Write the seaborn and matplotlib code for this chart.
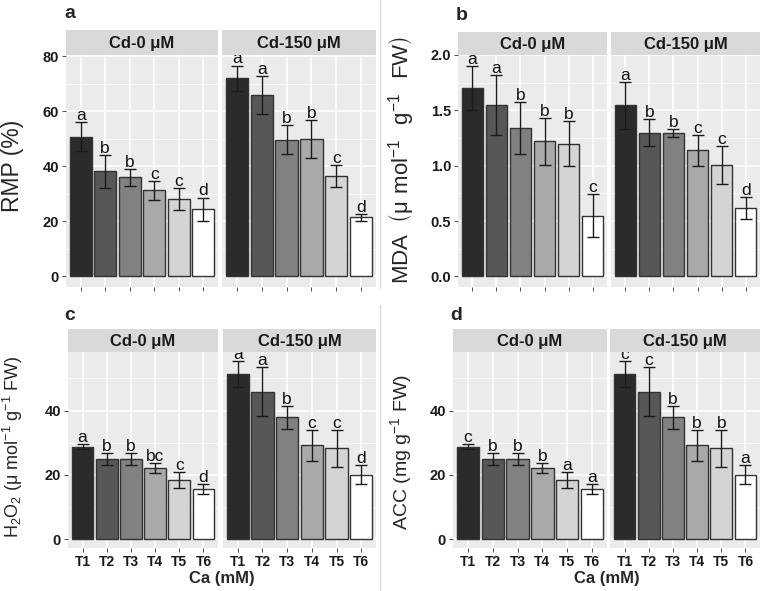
import pandas as pd
import matplotlib.pyplot as plt
import seaborn as sns
from matplotlib.lines import Line2D

# treatments and facet groups
treatments = ['T1', 'T2', 'T3', 'T4', 'T5', 'T6']
groups = ['Cd-0 μM', 'Cd-150 μM']
bar_colors = ['#2b2b2b', '#575757', '#818181', '#a9a9a9', '#d4d4d4', '#ffffff']

# panel a - RMP (%)
rmp_cd0 = [50.8, 38.2, 36.0, 31.3, 28.0, 24.5]
rmp_cd0_err = [5.2, 5.9, 3.0, 3.5, 4.0, 4.2]
rmp_cd150 = [72.0, 66.0, 49.7, 50.0, 36.5, 21.5]
rmp_cd150_err = [4.7, 7.0, 5.2, 7.0, 4.0, 1.2]
rmp_letters_cd0 = ['a', 'b', 'b', 'c', 'c', 'd']
rmp_letters_cd150 = ['a', 'a', 'b', 'b', 'c', 'd']

# panel b - MDA
mda_cd0 = [1.70, 1.55, 1.34, 1.22, 1.20, 0.55]
mda_cd0_err = [0.20, 0.27, 0.235, 0.21, 0.20, 0.195]
mda_cd150 = [1.545, 1.30, 1.295, 1.14, 1.005, 0.62]
mda_cd150_err = [0.21, 0.12, 0.035, 0.14, 0.17, 0.10]
mda_letters_cd0 = ['a', 'a', 'b', 'b', 'b', 'c']
mda_letters_cd150 = ['a', 'b', 'b', 'c', 'c', 'd']

# panel c - H2O2
h2o2_cd0 = [28.8, 24.8, 24.8, 22.2, 18.3, 15.5]
h2o2_cd0_err = [0.7, 1.85, 1.85, 1.55, 2.45, 1.5]
h2o2_cd150 = [51.4, 45.9, 37.9, 29.2, 28.2, 20.1]
h2o2_cd150_err = [4.05, 7.7, 3.55, 4.8, 5.75, 3.0]
h2o2_letters_cd0 = ['a', 'b', 'b', 'bc', 'c', 'd']
h2o2_letters_cd150 = ['a', 'a', 'b', 'c', 'c', 'd']

# panel d - ACC
acc_cd0 = [28.8, 24.8, 24.8, 22.2, 18.3, 15.5]
acc_cd0_err = [0.7, 1.85, 1.85, 1.55, 2.45, 1.5]
acc_cd150 = [51.4, 45.9, 37.9, 29.2, 28.2, 20.1]
acc_cd150_err = [4.05, 7.7, 3.55, 4.8, 5.75, 3.0]
acc_letters_cd0 = ['c', 'b', 'b', 'b', 'a', 'a']
acc_letters_cd150 = ['c', 'c', 'b', 'b', 'b', 'a']

sns.set_theme(style="darkgrid")
plt.rcParams['font.family'] = ['Liberation Sans', 'DejaVu Sans']
plt.rcParams['mathtext.default'] = 'regular'

W, H = 761, 591
fig = plt.figure(figsize=(W / 100, H / 100), dpi=100)
fig.patch.set_facecolor('white')


def px_box(x0, x1, ytop, ybot):
    return [x0 / W, 1 - ybot / H, (x1 - x0) / W, (ybot - ytop) / H]


def draw_panel(facets, strip_top, plot_top, plot_bot, data, yticks, fmt, show_x):
    hi = max(max(m + e for m, e in zip(d[0], d[1])) for d in data)
    pad = 0.05 * hi
    minor = [(yticks[i] + yticks[i + 1]) / 2 for i in range(len(yticks) - 1)]
    minor.append(yticks[-1] + (yticks[1] - yticks[0]) / 2)
    for k, ((x0, x1), (means, errs, letters)) in enumerate(zip(facets, data)):
        ax = fig.add_axes(px_box(x0, x1, plot_top, plot_bot))
        df = pd.DataFrame({'trt': treatments, 'val': means})
        sns.barplot(data=df, x='trt', y='val', hue='trt', palette=bar_colors,
                    edgecolor='#333333', linewidth=1, width=0.9, legend=False,
                    ax=ax, zorder=2)
        ax.errorbar(range(6), means, yerr=errs, fmt='none', ecolor='#1a1a1a',
                    elinewidth=1, capsize=4, capthick=1, zorder=3)
        for i, lab in enumerate(letters):
            ax.annotate(lab, (i, means[i] + errs[i]), xytext=(0, 1.5),
                        textcoords='offset points', ha='center', va='baseline',
                        fontsize=12.5, color='#111111', zorder=4)
        ax.set_facecolor('#EBEBEB')
        ax.set_xlim(-0.6, 5.6)
        ax.set_ylim(-pad, hi + pad)
        ax.set_yticks(yticks)
        ax.set_yticks([m for m in minor if m < hi + pad], minor=True)
        ax.grid(True, which='major', color='white', linewidth=1.1)
        ax.grid(True, which='minor', axis='y', color='white', linewidth=0.5)
        ax.set_axisbelow(True)
        for s in ax.spines.values():
            s.set_visible(False)
        ax.set_xlabel('')
        ax.set_ylabel('')
        ax.tick_params(axis='x', length=3, width=0.6, color='#333333', pad=2,
                       bottom=True, labelbottom=show_x, labelsize=10)
        for t in ax.get_xticklabels():
            t.set_fontweight('bold')
            t.set_color('#1a1a1a')
        if k == 0:
            ax.set_yticklabels([fmt.format(v) for v in yticks], fontweight='bold',
                               color='#1a1a1a')
            ax.tick_params(axis='y', length=3, width=0.6, color='#333333', pad=2,
                           left=True, labelsize=10.5)
        else:
            ax.tick_params(axis='y', left=False, labelleft=False)
        # facet strip
        sax = fig.add_axes(px_box(x0, x1, strip_top, plot_top))
        sax.set_facecolor('#D9D9D9')
        sax.set_xticks([])
        sax.set_yticks([])
        sax.grid(False)
        for s in sax.spines.values():
            s.set_visible(False)
        sax.text(0.5, 0.45, groups[k], ha='center', va='center', fontsize=12,
                 fontweight='bold', color='#1a1a1a', transform=sax.transAxes)


# a
draw_panel([(66, 218), (222, 376)], 30, 55, 287,
           [(rmp_cd0, rmp_cd0_err, rmp_letters_cd0),
            (rmp_cd150, rmp_cd150_err, rmp_letters_cd150)],
           [0, 20, 40, 60, 80], '{:g}', False)
# b
draw_panel([(458, 607), (611, 760)], 32, 55, 287,
           [(mda_cd0, mda_cd0_err, mda_letters_cd0),
            (mda_cd150, mda_cd150_err, mda_letters_cd150)],
           [0.0, 0.5, 1.0, 1.5, 2.0], '{:.1f}', False)
# c
draw_panel([(68, 218), (223, 376)], 329, 352, 548,
           [(h2o2_cd0, h2o2_cd0_err, h2o2_letters_cd0),
            (h2o2_cd150, h2o2_cd150_err, h2o2_letters_cd150)],
           [0, 20, 40], '{:g}', True)
# d
draw_panel([(453, 607), (610, 760)], 329, 352, 548,
           [(acc_cd0, acc_cd0_err, acc_letters_cd0),
            (acc_cd150, acc_cd150_err, acc_letters_cd150)],
           [0, 20, 40], '{:g}', True)

# panel letters
for lab, x, y in [('a', 70, 14), ('b', 462, 16), ('c', 70, 316), ('d', 456, 316)]:
    fig.text(x / W, 1 - y / H, lab, fontsize=14, fontweight='bold', ha='center', va='center')

# y labels
fig.text(13 / W, 1 - 166 / H, 'RMP (%)', rotation=90, fontsize=16.5, ha='center', va='center')
fig.text(401 / W, 1 - 160 / H, r'MDA  $\left(\mu\ mol^{-1}\ \ g^{-1}\ \ FW\right)$',
         rotation=90, fontsize=16, ha='center', va='center')
fig.text(13 / W, 1 - 447 / H, r'H$_2$O$_2$ ($\mu$ mol$^{-1}$ g$^{-1}$ FW)',
         rotation=90, fontsize=13, ha='center', va='center')
fig.text(401 / W, 1 - 452 / H, r'ACC (mg g$^{-1}$ FW)',
         rotation=90, fontsize=14, ha='center', va='center')

# x labels
fig.text(222 / W, 1 - 578 / H, 'Ca (mM)', fontsize=12, fontweight='bold', ha='center', va='center')
fig.text(607 / W, 1 - 578 / H, 'Ca (mM)', fontsize=12, fontweight='bold', ha='center', va='center')

# separators between panels
fig.add_artist(Line2D([380 / W, 380 / W], [1 - 0 / H, 1 - 288 / H], color='#dcdcdc', linewidth=1))
fig.add_artist(Line2D([380 / W, 380 / W], [1 - 305 / H, 0], color='#dcdcdc', linewidth=1))

plt.savefig('out.png', dpi=100)
plt.close()
